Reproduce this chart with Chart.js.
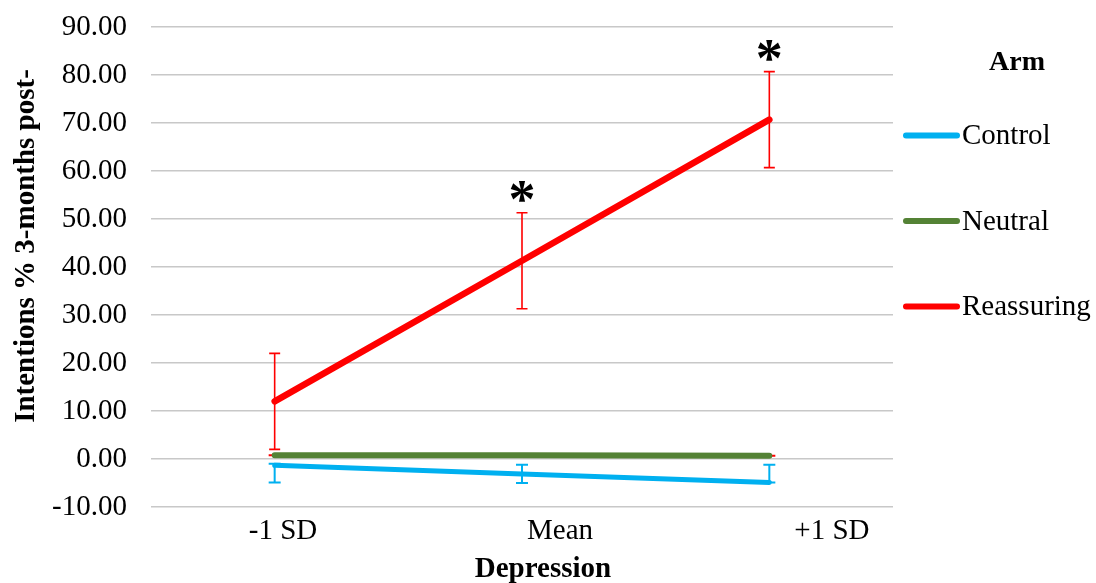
<!DOCTYPE html>
<html lang="en">
<head>
<meta charset="UTF-8">
<title>Intentions by depression and arm</title>
<script src="https://cdn.jsdelivr.net/npm/chart.js"></script>
<style>
  html, body { margin: 0; padding: 0; background: #fff; }
  #wrap { width: 1096px; height: 583px; position: relative; }
</style>
</head>
<body>
<div id="wrap"><canvas id="grafico"></canvas></div>

<script>
// categories on the x axis
const categories = ['-1 SD', 'Mean', '+1 SD'];

// mean intentions per arm
const controlValues = [-1.3, -3.1, -4.9];
const neutralValues = [0.8, 0.8, 0.7];
const reassuringValues = [12.0, 41.3, 70.7];

// error bar lengths (up / down)
const controlErrUp = [0.3, 1.9, 3.7];
const controlErrDown = [3.6, 1.9, 0];
const neutralErrUp = [0, 0, 0];
const neutralErrDown = [0, 0, 0];
const reassuringErrUp = [10, 10, 10];
const reassuringErrDown = [10, 10, 10];

// significance marks above the reassuring arm
const reassuringStars = [false, true, true];

// y axis
const yMin = -10;
const yMax = 90;
const yStep = 10;

const serif = "'Liberation Serif', 'Times New Roman', serif";

// where the category names sit along the bottom (0..3 across the plot)
const labelSlots = [0.534, 1.654, 2.753];

const extras = {
    id: 'extras',
    beforeDatasetsDraw(chart) {
        const ctx = chart.ctx;
        const y = chart.scales.y;
        chart.data.datasets.forEach(function (ds, i) {
            const meta = chart.getDatasetMeta(i);
            ctx.save();
            ctx.strokeStyle = ds.errColor;
            ctx.lineWidth = ds.errWidth;
            meta.data.forEach(function (pt, j) {
                const v = ds.data[j];
                const top = y.getPixelForValue(v + ds.errUp[j]);
                const bot = y.getPixelForValue(v - ds.errDown[j]);
                const half = ds.capWidth / 2;
                ctx.beginPath();
                ctx.moveTo(pt.x, top);
                ctx.lineTo(pt.x, bot);
                ctx.moveTo(pt.x - half, top);
                ctx.lineTo(pt.x + half, top);
                ctx.moveTo(pt.x - half, bot);
                ctx.lineTo(pt.x + half, bot);
                ctx.stroke();
            });
            ctx.restore();
        });
    },
    afterDraw(chart) {
        const ctx = chart.ctx;
        const y = chart.scales.y;

        // asterisks over the reassuring arm
        const rIdx = 2;
        const rds = chart.data.datasets[rIdx];
        const rmeta = chart.getDatasetMeta(rIdx);
        ctx.save();
        ctx.fillStyle = '#000';
        ctx.font = 'bold 54px ' + serif;
        ctx.textAlign = 'center';
        ctx.textBaseline = 'middle';
        reassuringStars.forEach(function (on, j) {
            if (!on) return;
            const top = y.getPixelForValue(rds.data[j] + rds.errUp[j]);
            ctx.fillText('*', rmeta.data[j].x, top - 10);
        });
        ctx.restore();

        // axis titles
        ctx.save();
        ctx.fillStyle = '#000';
        ctx.font = 'bold 29px ' + serif;
        ctx.textAlign = 'center';
        ctx.textBaseline = 'middle';
        ctx.fillText('Depression', 543, 570);
        ctx.translate(27, 246);
        ctx.rotate(-Math.PI / 2);
        ctx.fillText('Intentions % 3-months post-', 0, 0);
        ctx.restore();

        // legend
        ctx.save();
        ctx.fillStyle = '#000';
        ctx.font = 'bold 28px ' + serif;
        ctx.textAlign = 'center';
        ctx.textBaseline = 'middle';
        ctx.fillText('Arm', 1017, 63);
        ctx.font = '29px ' + serif;
        ctx.textAlign = 'left';
        chart.data.datasets.forEach(function (ds, i) {
            const ly = 135.5 + i * 85.5;
            ctx.strokeStyle = ds.borderColor;
            ctx.lineWidth = 6;
            ctx.lineCap = 'round';
            ctx.beginPath();
            ctx.moveTo(906, ly);
            ctx.lineTo(957, ly);
            ctx.stroke();
            ctx.fillText(ds.label, 962, ly + 1);
        });
        ctx.restore();
    }
};

const config = {
    type: 'line',
    data: {
        labels: categories,
        datasets: [
            {
                label: 'Control',
                data: controlValues,
                borderColor: '#00B0F0',
                borderWidth: 5,
                errUp: controlErrUp,
                errDown: controlErrDown,
                errColor: '#00B0F0',
                errWidth: 2,
                capWidth: 12
            },
            {
                label: 'Neutral',
                data: neutralValues,
                borderColor: '#548235',
                borderWidth: 6,
                errUp: neutralErrUp,
                errDown: neutralErrDown,
                errColor: '#FF0000',
                errWidth: 2,
                capWidth: 12
            },
            {
                label: 'Reassuring',
                data: reassuringValues,
                borderColor: '#FF0000',
                borderWidth: 6.5,
                errUp: reassuringErrUp,
                errDown: reassuringErrDown,
                errColor: '#FF0000',
                errWidth: 1.6,
                capWidth: 11
            }
        ]
    },
    options: {
        responsive: true,
        maintainAspectRatio: false,
        animation: false,
        layout: { padding: { left: 0, right: 203, top: 27, bottom: 0 } },
        elements: {
            point: { radius: 0 },
            line: { tension: 0, borderCapStyle: 'round', borderJoinStyle: 'round' }
        },
        plugins: {
            legend: { display: false },
            tooltip: { enabled: false }
        },
        scales: {
            x: {
                type: 'category',
                display: false,
                offset: true
            },
            xLab: {
                type: 'linear',
                position: 'bottom',
                min: 0,
                max: 3,
                grid: { display: false, drawTicks: false },
                border: { display: false },
                afterBuildTicks: function (scale) {
                    scale.ticks = labelSlots.map(function (v) { return { value: v }; });
                },
                afterFit: function (scale) { scale.height = 76; },
                ticks: {
                    autoSkip: false,
                    maxRotation: 0,
                    padding: 7,
                    color: '#000',
                    font: { family: serif, size: 29 },
                    callback: function (v, i) { return categories[i]; }
                }
            },
            y: {
                min: yMin,
                max: yMax,
                grid: {
                    color: '#c8c8c8',
                    lineWidth: 1.5,
                    drawTicks: true,
                    tickLength: 24,
                    tickColor: 'rgba(0,0,0,0)'
                },
                border: { display: false },
                afterFit: function (scale) { scale.width = 151; },
                ticks: {
                    stepSize: yStep,
                    padding: 0,
                    color: '#000',
                    font: { family: serif, size: 29 },
                    callback: function (v) { return v.toFixed(2); }
                }
            }
        }
    },
    plugins: [extras]
};

new Chart(document.getElementById('grafico'), config);
</script>
</body>
</html>
